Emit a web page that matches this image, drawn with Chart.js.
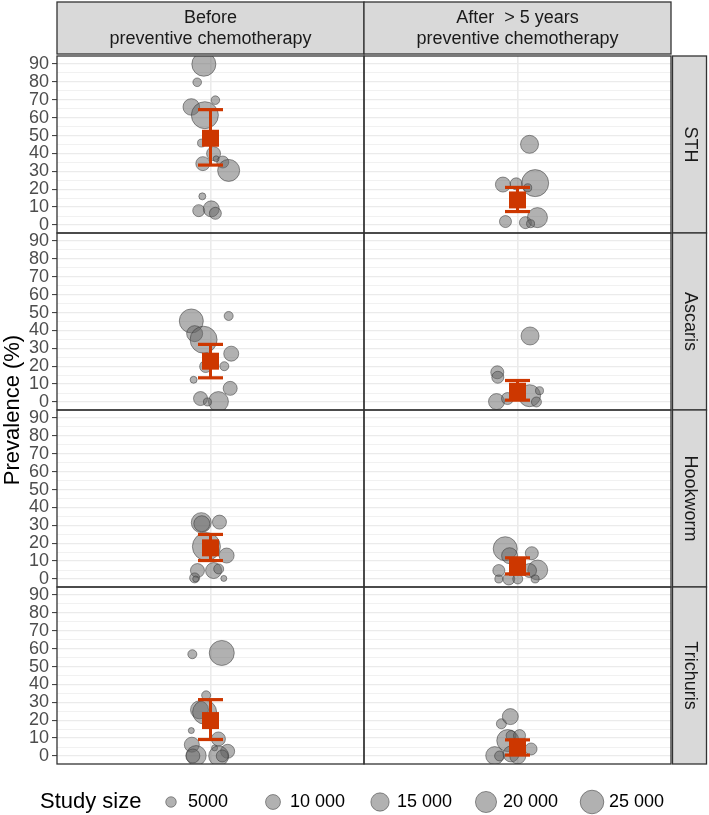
<!DOCTYPE html>
<html>
<head>
<meta charset="utf-8">
<script src="https://cdn.jsdelivr.net/npm/chart.js@4.4.1/dist/chart.umd.min.js"></script>
<style>
  html, body { margin: 0; padding: 0; background: #fff; }
  canvas { display: block; }
</style>
</head>
<body>
<canvas id="prevalence-chart" width="709" height="815"></canvas>
<script>
const worms = ['STH', 'Ascaris', 'Hookworm', 'Trichuris'];
const periods = ['Before\npreventive chemotherapy', 'After  > 5 years\npreventive chemotherapy'];
const yTickLabels = [0, 10, 20, 30, 40, 50, 60, 70, 80, 90];
const sizeBreaks = [5000, 10000, 15000, 20000, 25000];
const sizeLabels = ['5000', '10 000', '15 000', '20 000', '25 000'];

// each study: [jittered x, prevalence (%), study size]
const sthBefore = [
    [0.974, 89.9, 25900], [0.948, 79.8, 3320], [1.019, 69.8, 3320], [0.925, 66.0, 12400],
    [0.978, 61.4, 32750], [0.965, 45.8, 2875], [1.012, 39.9, 8800], [0.970, 34.3, 8800],
    [1.048, 35.2, 6470], [1.071, 30.5, 21740], [1.022, 37.0, 1617], [0.968, 16.0, 2200],
    [0.954, 8.0, 6470], [1.003, 9.0, 11500], [1.019, 6.5, 6470],
];
const sthAfter = [
    [1.047, 45.1, 14550], [0.943, 22.6, 10100], [0.995, 23.0, 6470], [1.069, 23.4, 32750],
    [1.040, 20.8, 2875], [0.953, 1.9, 6470], [1.031, 1.3, 6470], [1.078, 4.1, 17970],
    [1.051, 0.7, 2875],
];
const ascarisBefore = [
    [0.925, 45.3, 25900], [1.071, 48.1, 3640], [0.938, 38.2, 11500], [0.973, 34.8, 32750],
    [1.081, 27.0, 10100], [0.981, 19.8, 6470], [1.054, 20.0, 3640], [0.934, 12.4, 2200],
    [1.077, 7.6, 8800], [0.961, 1.9, 8800], [1.031, 0.2, 17970], [0.988, 0.0, 2875],
];
const ascarisAfter = [
    [1.049, 36.9, 14550], [0.921, 16.6, 7590], [0.923, 13.8, 6470], [0.918, 0.2, 11500],
    [0.961, 1.9, 6470], [1.047, 3.5, 21740], [1.074, 0.0, 4490], [1.086, 6.3, 2875],
];
const hookwormBefore = [
    [0.964, 31.5, 17970], [0.966, 30.9, 11500], [1.035, 31.8, 8800], [0.984, 18.1, 35200],
    [1.063, 13.1, 10100], [0.949, 4.7, 8800], [0.938, 0.6, 4490], [0.942, 0.0, 1617],
    [1.012, 4.7, 11500], [1.032, 5.6, 4490], [1.052, 0.3, 1617],
];
const hookwormAfter = [
    [0.952, 16.9, 25900], [1.056, 14.4, 7590], [0.969, 13.0, 11500], [1.079, 5.0, 17970],
    [0.927, 4.7, 6470], [1.047, 4.7, 8800], [0.966, 0.0, 6470], [1.001, 0.0, 4490],
    [0.927, 0.0, 2875], [1.069, 0.0, 2875], [0.992, 8.4, 6470],
];
const trichurisBefore = [
    [0.929, 56.9, 3640], [1.044, 57.6, 28100], [0.983, 33.9, 3640], [0.957, 25.8, 14550],
    [0.977, 24.5, 25900], [0.925, 14.2, 1617], [1.031, 9.5, 8800], [0.927, 6.3, 10100],
    [1.016, 4.5, 1617], [1.067, 2.6, 8800], [0.944, 0.2, 17970], [0.931, 0.0, 8800],
    [1.032, 0.0, 17970], [1.046, 0.0, 6470],
];
const trichurisAfter = [
    [0.937, 18.0, 4490], [0.972, 22.0, 11500], [0.962, 8.6, 21740], [0.975, 11.4, 4490],
    [1.008, 11.4, 6470], [0.911, 0.2, 14550], [0.930, 0.0, 4490], [0.975, 1.1, 11500],
    [1.001, 0.0, 11500], [1.053, 3.9, 6470],
];

// pooled prevalence with 95% CI, one value per worm (STH, Ascaris, Hookworm, Trichuris)
const meanBefore = [48.5, 22.8, 17.4, 19.8];
const lowBefore = [33.5, 13.5, 10.3, 9.2];
const highBefore = [64.5, 32.2, 24.9, 31.5];
const meanAfter = [14.0, 6.0, 6.5, 5.0];
const lowAfter = [7.5, 1.0, 2.8, 0.5];
const highAfter = [21.0, 12.0, 11.8, 9.0];

const studies = [
    [sthBefore, sthAfter],
    [ascarisBefore, ascarisAfter],
    [hookwormBefore, hookwormAfter],
    [trichurisBefore, trichurisAfter],
];
const means = [meanBefore, meanAfter];
const lows = [lowBefore, lowAfter];
const highs = [highBefore, highAfter];

const RED = '#CD3700';
const BUBBLE_FILL = 'rgba(100,100,100,0.5)';
const BUBBLE_LINE = 'rgba(50,50,50,0.5)';
const FONT = '"Liberation Sans", Arial, Helvetica, sans-serif';
const radiusOf = (n) => Math.sqrt(n) / 13.4;

const datasets = [];
worms.forEach((worm, r) => {
    periods.forEach((period, c) => {
        const axes = { xAxisID: 'x' + c, yAxisID: 'y' + r };
        datasets.push({
            ...axes,
            type: 'bubble',
            order: 3,
            data: studies[r][c].map(([x, y, n]) => ({ x, y, r: radiusOf(n) })),
            backgroundColor: BUBBLE_FILL,
            borderColor: BUBBLE_LINE,
            borderWidth: 1,
        });
        datasets.push({
            ...axes,
            type: 'line',
            order: 2,
            data: [{ x: 1, y: lows[c][r] }, { x: 1, y: highs[c][r] }],
            borderColor: RED,
            borderWidth: 3,
            pointStyle: 'line',
            pointRadius: 12.5,
            pointBorderWidth: 3.2,
            pointBorderColor: RED,
        });
        datasets.push({
            ...axes,
            type: 'scatter',
            order: 1,
            data: [{ x: 1, y: means[c][r] }],
            pointStyle: 'rect',
            pointRadius: 12,
            backgroundColor: RED,
            borderWidth: 0,
        });
    });
});

const scales = {};
periods.forEach((period, c) => {
    scales['x' + c] = {
        type: 'linear',
        position: 'bottom',
        stack: 'columns',
        stackWeight: 1,
        weight: c,
        min: 0.4,
        max: 1.6,
        afterBuildTicks: (scale) => { scale.ticks = [{ value: 1 }]; },
        afterFit: (scale) => { scale.height = 0; },
        ticks: { display: false },
        grid: { color: '#ebebeb', lineWidth: 1.6, drawTicks: false },
        border: { display: false },
    };
});
worms.forEach((worm, r) => {
    scales['y' + r] = {
        type: 'linear',
        position: 'left',
        stack: 'rows',
        stackWeight: 1,
        weight: worms.length - r,
        min: -4.5,
        max: 94.5,
        afterBuildTicks: (scale) => {
            const minor = yTickLabels.slice(0, -1).map((v) => v + 5);
            scale.ticks = yTickLabels.concat(minor).sort((a, b) => a - b).map((v) => ({ value: v }));
        },
        afterFit: (scale) => { scale.width = 57; },
        ticks: {
            autoSkip: false,
            padding: 3,
            color: '#4d4d4d',
            font: { family: FONT, size: 18 },
            callback: (v) => (yTickLabels.includes(v) ? String(v) : ''),
        },
        grid: {
            color: '#ebebeb',
            lineWidth: (ctx) => (ctx.tick && ctx.tick.value % 10 ? 0.7 : 1.2),
            tickLength: 5,
            tickColor: (ctx) => (ctx.tick && ctx.tick.value % 10 ? 'rgba(0,0,0,0)' : '#333333'),
            tickWidth: 1,
        },
        border: { display: false },
    };
});

// keep every dataset inside its own facet
const panelClip = {
    id: 'panelClip',
    beforeDatasetDraw(chart, args) {
        const xs = chart.scales[args.meta.xAxisID];
        const ys = chart.scales[args.meta.yAxisID];
        const ctx = chart.ctx;
        ctx.save();
        ctx.beginPath();
        ctx.rect(xs.left, ys.top, xs.right - xs.left, ys.bottom - ys.top);
        ctx.clip();
    },
    afterDatasetDraw(chart) {
        chart.ctx.restore();
    },
};

// borders, strips, axis title and size legend
const facetFrame = {
    id: 'facetFrame',
    afterDraw(chart) {
        const ctx = chart.ctx;
        const area = chart.chartArea;
        const xs = periods.map((p, c) => chart.scales['x' + c]);
        const ys = worms.map((w, r) => chart.scales['y' + r]);

        ctx.save();
        ctx.strokeStyle = '#333333';
        ctx.lineWidth = 1.3;
        xs.forEach((x) => ys.forEach((y) => {
            ctx.strokeRect(x.left, y.top, x.right - x.left, y.bottom - y.top);
        }));

        ctx.font = '18px ' + FONT;
        ctx.textAlign = 'center';
        ctx.textBaseline = 'middle';
        xs.forEach((x, c) => {
            ctx.fillStyle = '#d9d9d9';
            ctx.fillRect(x.left, 2, x.right - x.left, area.top - 4);
            ctx.strokeRect(x.left, 2, x.right - x.left, area.top - 4);
            ctx.fillStyle = '#1a1a1a';
            periods[c].split('\n').forEach((line, i) => {
                ctx.fillText(line, (x.left + x.right) / 2, 18 + i * 21);
            });
        });
        ys.forEach((y, r) => {
            const left = area.right + 1.5;
            ctx.fillStyle = '#d9d9d9';
            ctx.fillRect(left, y.top, 34, y.bottom - y.top);
            ctx.strokeRect(left, y.top, 34, y.bottom - y.top);
            ctx.save();
            ctx.translate(left + 17, (y.top + y.bottom) / 2);
            ctx.rotate(Math.PI / 2);
            ctx.fillStyle = '#1a1a1a';
            ctx.fillText(worms[r], 0, 0);
            ctx.restore();
        });

        ctx.save();
        ctx.translate(13, (area.top + area.bottom) / 2);
        ctx.rotate(-Math.PI / 2);
        ctx.fillStyle = '#000';
        ctx.font = '22px ' + FONT;
        ctx.fillText('Prevalence (%)', 0, 0);
        ctx.restore();

        const legendY = 802;
        ctx.textAlign = 'left';
        ctx.fillStyle = '#000';
        ctx.font = '22px ' + FONT;
        ctx.fillText('Study size', 40, legendY);
        const keyX = [171, 273, 380, 486, 592];
        ctx.font = '18px ' + FONT;
        sizeBreaks.forEach((n, i) => {
            ctx.beginPath();
            ctx.arc(keyX[i], legendY, radiusOf(n), 0, Math.PI * 2);
            ctx.fillStyle = BUBBLE_FILL;
            ctx.fill();
            ctx.strokeStyle = BUBBLE_LINE;
            ctx.lineWidth = 1;
            ctx.stroke();
            ctx.fillStyle = '#000';
            ctx.fillText(sizeLabels[i], keyX[i] + 17, legendY);
        });
        ctx.restore();
    },
};

new Chart(document.getElementById('prevalence-chart'), {
    type: 'bubble',
    data: { datasets },
    options: {
        responsive: false,
        animation: false,
        devicePixelRatio: 1,
        events: [],
        layout: { padding: { left: 0, top: 56, right: 38, bottom: 51 } },
        scales,
        plugins: {
            legend: { display: false },
            tooltip: { enabled: false },
        },
    },
    plugins: [panelClip, facetFrame],
});
</script>
</body>
</html>
